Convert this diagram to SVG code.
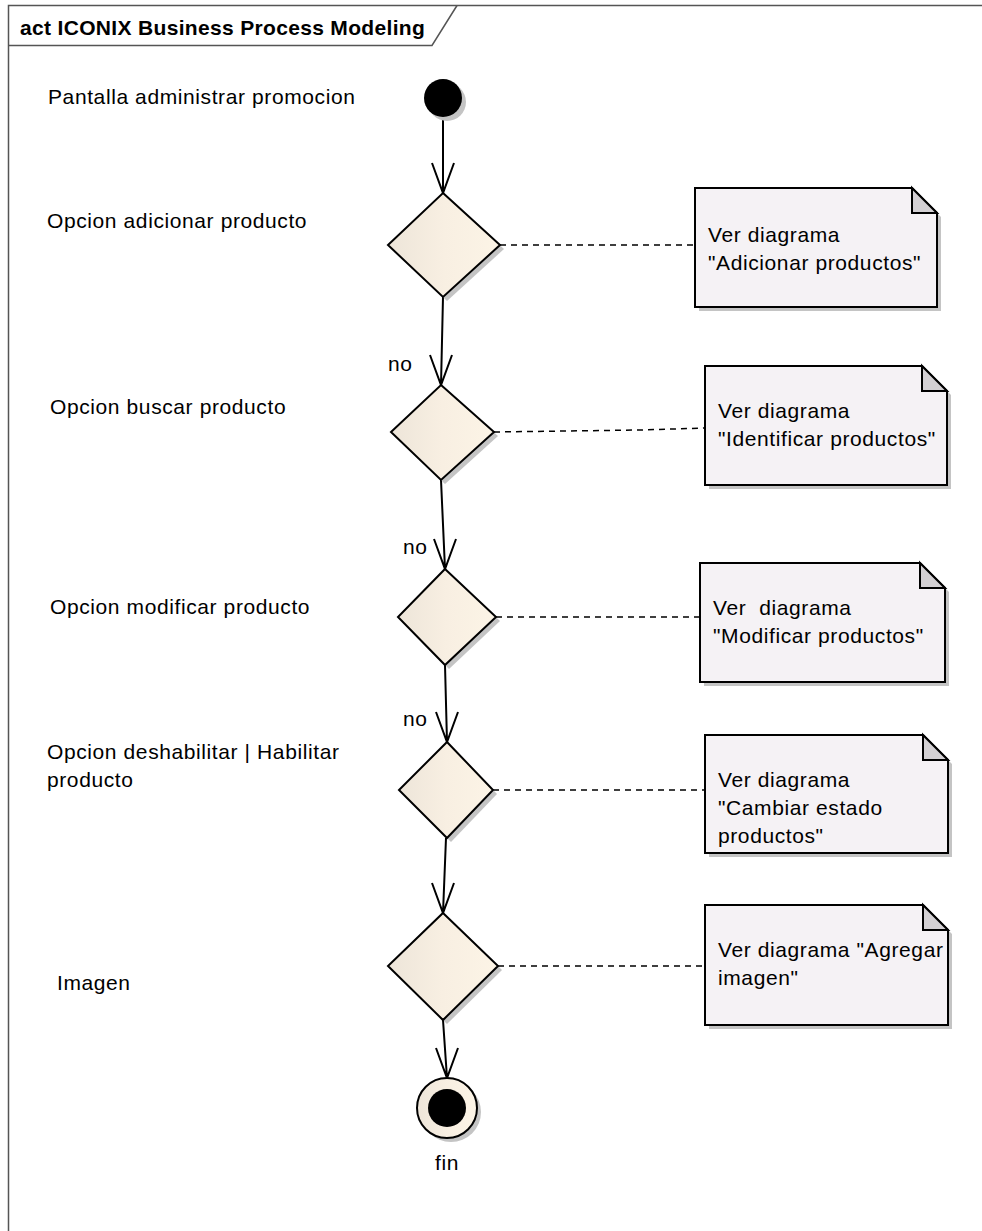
<svg xmlns="http://www.w3.org/2000/svg" width="982" height="1231" viewBox="0 0 982 1231">
<defs>
<linearGradient id="beige" x1="0" y1="0" x2="1" y2="0">
<stop offset="0" stop-color="#ede5d9"/>
<stop offset="0.5" stop-color="#f8efe2"/>
<stop offset="1" stop-color="#fcf4e6"/>
</linearGradient>
</defs>
<style>
text{font-family:"Liberation Sans",Arial,sans-serif;font-size:21px;fill:#000;letter-spacing:0.6px}
.title{font-weight:bold;letter-spacing:0.33px}
.frame{fill:none;stroke:#555;stroke-width:1.5}
.dia{fill:url(#beige);stroke:#000;stroke-width:2}
.shadow{fill:#c4c4c4;stroke:none}
.note{fill:#f5f2f5;stroke:#000;stroke-width:2}
.fold{fill:#d3d0d3;stroke:#000;stroke-width:2;stroke-linejoin:miter}
.flow{fill:none;stroke:#000;stroke-width:2}
.dash{fill:none;stroke:#000;stroke-width:1.5;stroke-dasharray:6 5}
</style>
<g id="frame">
<rect class="frame" x="8.5" y="5.5" width="1000" height="1300"/>
<path class="frame" d="M8.5,45.5 L432,45.5 L457,5.5"/>
<text class="title" x="20" y="35">act ICONIX Business Process Modeling</text>
</g>
<g id="labels">
<text x="48" y="104">Pantalla administrar promocion</text>
<text x="47" y="228">Opcion adicionar producto</text>
<text x="50" y="414">Opcion buscar producto</text>
<text x="50" y="614">Opcion modificar producto</text>
<text x="47" y="759">Opcion deshabilitar | Habilitar</text>
<text x="47" y="787">producto</text>
<text x="57" y="990">Imagen</text>
</g>
<g id="connectors">
<path class="flow" d="M443,117 L443,193 M432,163 L443,193 L454,163"/>
<path class="flow" d="M443,297 L441,385 M430,355 L441,385 L452,355"/>
<text x="388" y="371">no</text>
<path class="flow" d="M441,480 L445,569 M434,539 L445,569 L456,539"/>
<text x="403" y="554">no</text>
<path class="flow" d="M445,665 L447,742 M436,712 L447,742 L458,712"/>
<text x="403" y="726">no</text>
<path class="flow" d="M446,838 L443,913 M432,883 L443,913 L454,883"/>
<path class="flow" d="M443,1020 L447,1078 M436,1048 L447,1078 L458,1048"/>
<path class="dash" d="M500,245 L695,245"/>
<path class="dash" d="M494,432 L640,430 L705,428"/>
<path class="dash" d="M496,617 L700,617"/>
<path class="dash" d="M493,790 L705,790"/>
<path class="dash" d="M498,966 L705,966"/>
</g>
<g id="start">
<circle class="shadow" cx="447" cy="102" r="19"/>
<circle cx="443" cy="98" r="19" fill="#000"/>
</g>
<g id="d1">
<path class="shadow" d="M447,197 L504,249 L447,301 L392,249Z"/>
<path class="dia" d="M443,193 L500,245 L443,297 L388,245Z"/>
</g>
<g id="d2">
<path class="shadow" d="M445,389 L498,436 L445,484 L395,436Z"/>
<path class="dia" d="M441,385 L494,432 L441,480 L391,432Z"/>
</g>
<g id="d3">
<path class="shadow" d="M449,573 L500,621 L449,669 L402,621Z"/>
<path class="dia" d="M445,569 L496,617 L445,665 L398,617Z"/>
</g>
<g id="d4">
<path class="shadow" d="M451,746 L497,794 L451,842 L403,794Z"/>
<path class="dia" d="M447,742 L493,790 L447,838 L399,790Z"/>
</g>
<g id="d5">
<path class="shadow" d="M447,917 L502,970 L447,1024 L392,970Z"/>
<path class="dia" d="M443,913 L498,966 L443,1020 L388,966Z"/>
</g>
<g id="end">
<circle class="shadow" cx="451" cy="1112" r="30"/>
<circle cx="447" cy="1108" r="30" fill="url(#beige)" stroke="#000" stroke-width="2"/>
<circle cx="447" cy="1108" r="19" fill="#000"/>
<text x="447" y="1170" text-anchor="middle">fin</text>
</g>
<g id="n1">
<path class="shadow" d="M699,192 L916,192 L941,217 L941,311 L699,311Z"/>
<path class="note" d="M695,188 L912,188 L937,213 L937,307 L695,307Z"/>
<path class="fold" d="M912,188 L912,213 L937,213Z"/>
<text x="708" y="242">Ver diagrama</text>
<text x="708" y="270">"Adicionar productos"</text>
</g>
<g id="n2">
<path class="shadow" d="M709,370 L926,370 L951,395 L951,489 L709,489Z"/>
<path class="note" d="M705,366 L922,366 L947,391 L947,485 L705,485Z"/>
<path class="fold" d="M922,366 L922,391 L947,391Z"/>
<text x="718" y="418">Ver diagrama</text>
<text x="718" y="446">"Identificar productos"</text>
</g>
<g id="n3">
<path class="shadow" d="M704,567 L924,567 L949,592 L949,686 L704,686Z"/>
<path class="note" d="M700,563 L920,563 L945,588 L945,682 L700,682Z"/>
<path class="fold" d="M920,563 L920,588 L945,588Z"/>
<text x="713" y="615" xml:space="preserve">Ver  diagrama</text>
<text x="713" y="643">"Modificar productos"</text>
</g>
<g id="n4">
<path class="shadow" d="M709,739 L927,739 L952,764 L952,857 L709,857Z"/>
<path class="note" d="M705,735 L923,735 L948,760 L948,853 L705,853Z"/>
<path class="fold" d="M923,735 L923,760 L948,760Z"/>
<text x="718" y="787">Ver diagrama</text>
<text x="718" y="815">"Cambiar estado</text>
<text x="718" y="843">productos"</text>
</g>
<g id="n5">
<path class="shadow" d="M709,909 L927,909 L952,934 L952,1029 L709,1029Z"/>
<path class="note" d="M705,905 L923,905 L948,930 L948,1025 L705,1025Z"/>
<path class="fold" d="M923,905 L923,930 L948,930Z"/>
<text x="718" y="957">Ver diagrama "Agregar</text>
<text x="718" y="985">imagen"</text>
</g>
</svg>
